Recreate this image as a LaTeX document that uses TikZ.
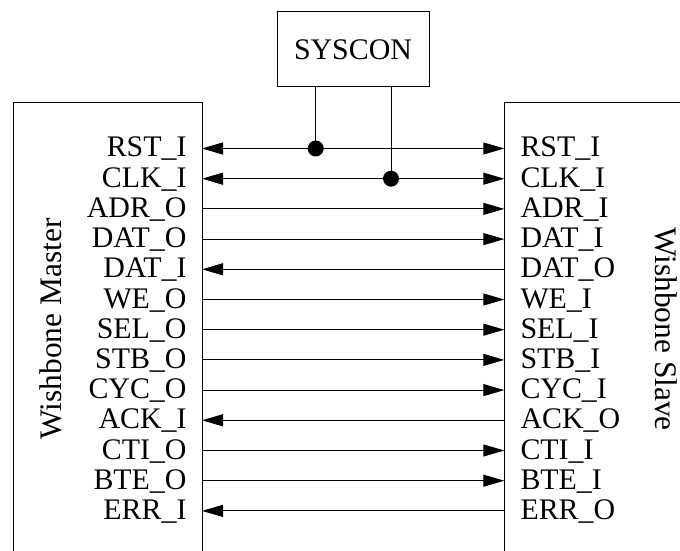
\documentclass[tikz,border=0pt]{standalone}
\usepackage{fontspec}
\setmainfont{Liberation Serif}
\usetikzlibrary{arrows.meta}
\begin{document}
\begin{tikzpicture}[x=1bp,y=-1bp,
  line width=1bp,
  every node/.style={font=\fontsize{30}{36}\selectfont},
  mlabel/.style={anchor=base east, inner sep=0pt},
  slabel/.style={anchor=base west, inner sep=0pt},
  title/.style={anchor=base, inner sep=0pt, font=\fontsize{31.5}{36}\selectfont},
  sig/.style={-{Triangle[length=21bp,width=12bp]}},
  bisig/.style={{Triangle[length=21bp,width=12bp]}-{Triangle[length=21bp,width=12bp]}},
  dotnode/.style={circle, fill=black, inner sep=0pt, minimum size=16bp},
  boxnode/.style={draw, rectangle, inner sep=0pt}]
\useasboundingbox (0,0) rectangle (680,551);
% boxes
\draw (13,551) -- (13,103) -- (202,103) -- (202,551);
\draw (504.3,551) -- (504.3,103) -- (680,103);
\node[boxnode, minimum width=152bp, minimum height=75bp] (sys) at (353,49.5) {SYSCON};
\node[title, rotate=90] (mtitle) at (61.5,329) {Wishbone Master};
\node[title, rotate=-90] (stitle) at (655,329) {Wishbone Slave};
% rows
\foreach \k/\ml/\sl in {0/RST\_I/RST\_I, 1/CLK\_I/CLK\_I, 2/ADR\_O/ADR\_I, 3/DAT\_O/DAT\_I, 4/DAT\_I/DAT\_O, 5/WE\_O/WE\_I, 6/SEL\_O/SEL\_I, 7/STB\_O/STB\_I, 8/CYC\_O/CYC\_I, 9/ACK\_I/ACK\_O, 10/CTI\_O/CTI\_I, 11/BTE\_O/BTE\_I, 12/ERR\_I/ERR\_O}{
  \pgfmathsetmacro{\yy}{148.5+30.2*\k}
  \coordinate (m\k) at (202,\yy);
  \coordinate (s\k) at (504.3,\yy);
  \node[mlabel] (ml\k) at (187,\yy+8.5) {\ml};
  \node[slabel] (sl\k) at (520,\yy+8.5) {\sl};
}
% connectors
\draw[bisig] (m0) -- (s0);
\draw[bisig] (m1) -- (s1);
\foreach \k in {2,3,5,6,7,8,10,11}{\draw[sig] (m\k) -- (s\k);}
\foreach \k in {4,9,12}{\draw[sig] (s\k) -- (m\k);}
% syscon taps
\node[dotnode] (d0) at (315.7,148.5) {};
\node[dotnode] (d1) at (391,178.7) {};
\draw (sys.south -| d0) -- (d0.center);
\draw (sys.south -| d1) -- (d1.center);
\end{tikzpicture}
\end{document}
